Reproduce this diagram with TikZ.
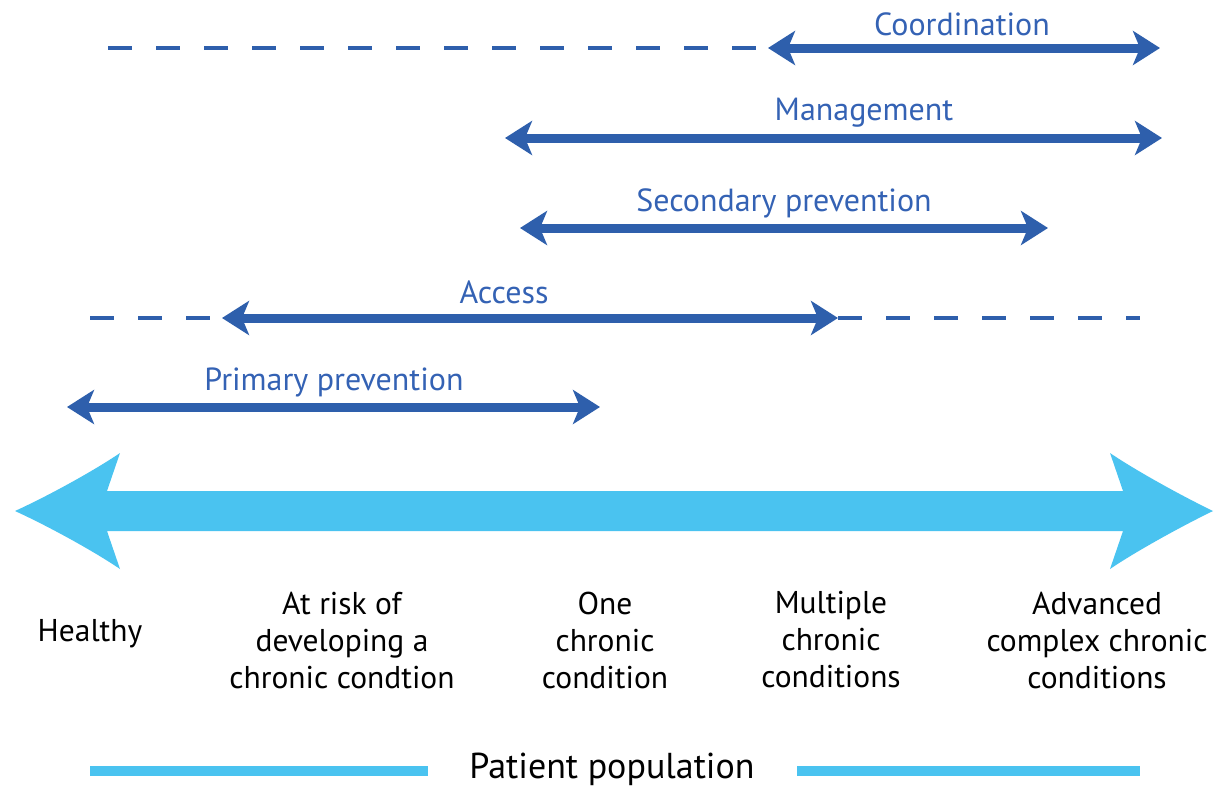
\documentclass[tikz,border=0pt]{standalone}
\usepackage{fontspec}
\setmainfont{PT Sans}
\usetikzlibrary{arrows.meta}
\definecolor{dblue}{HTML}{2E5FAC}
\definecolor{tblue}{HTML}{3462B4}
\definecolor{lblue}{HTML}{4AC3F0}
\tikzset{
  x=1pt,y=-1pt,
  band/.style={draw=dblue,line width=9pt,{Stealth[length=27pt,width=34pt,inset=7pt]}-{Stealth[length=27pt,width=34pt,inset=7pt]}},
  dashline/.style={draw=dblue,line width=3.2pt,dash pattern=on 24pt off 24pt},
  lab/.style={text=tblue,font=\fontsize{32}{34}\selectfont,inner sep=0pt},
  cat/.style={align=center,font=\fontsize{31.5}{37}\selectfont,inner sep=0pt},
  pop/.style={font=\fontsize{36}{40}\selectfont,inner sep=0pt},
}
\begin{document}
\begin{tikzpicture}
\useasboundingbox (0,0) rectangle (1214,787);
% Coordination
\coordinate (c0) at (108,48); \coordinate (c1) at (768,48); \coordinate (c2) at (1160,48);
\draw[dashline] (c0) -- (c1);
\draw[band] (c1) -- (c2);
\node[lab] (tc) at (962,24) {Coordination};
% Management
\coordinate (m1) at (505,138); \coordinate (m2) at (1162,138);
\draw[band] (m1) -- (m2);
\node[lab] (tm) at (864,113) {Management};
% Secondary prevention
\coordinate (s1) at (520,228); \coordinate (s2) at (1048,228);
\draw[band] (s1) -- (s2);
\node[lab] (ts) at (784,203) {Secondary prevention};
% Access
\coordinate (a0) at (90,318); \coordinate (a1) at (222,318); \coordinate (a2) at (838,318); \coordinate (a3) at (1140,318);
\draw[dashline] (a0) -- (a1);
\draw[dashline] (a2) -- (a3);
\draw[band] (a1) -- (a2);
\node[lab] (ta) at (504,292) {Access};
% Primary prevention
\coordinate (p1) at (67,407); \coordinate (p2) at (600,407);
\draw[band] (p1) -- (p2);
\node[lab] (tp) at (334,382) {Primary prevention};
% Big arrow
\fill[lblue] (15,511) .. controls (50,495) and (95,470) .. (120,453)
  -- (107,491) -- (1123,491) -- (1110,453)
  .. controls (1135,470) and (1180,495) .. (1213,511)
  .. controls (1180,527) and (1135,552) .. (1110,569)
  -- (1123,531) -- (107,531) -- (120,569)
  .. controls (95,552) and (50,527) .. (15,511) -- cycle;
% Categories
\node[cat] (h) at (90,634) {Healthy};
\node[cat] (r) at (342,640) {At risk of\\developing a\\chronic condtion};
\node[cat] (o) at (605,640) {One\\chronic\\condition};
\node[cat] (mu) at (831,640) {Multiple\\chronic\\conditions};
\node[cat] (ad) at (1097,640) {Advanced\\complex chronic\\conditions};
% Patient population
\node[pop] (pp) at (612,769) {Patient population};
\coordinate (l1) at (90,771); \coordinate (l2) at (428,771);
\coordinate (r1) at (797,771); \coordinate (r2) at (1140,771);
\draw[lblue,line width=10pt] (l1) -- (l2);
\draw[lblue,line width=10pt] (r1) -- (r2);
\end{tikzpicture}
\end{document}
